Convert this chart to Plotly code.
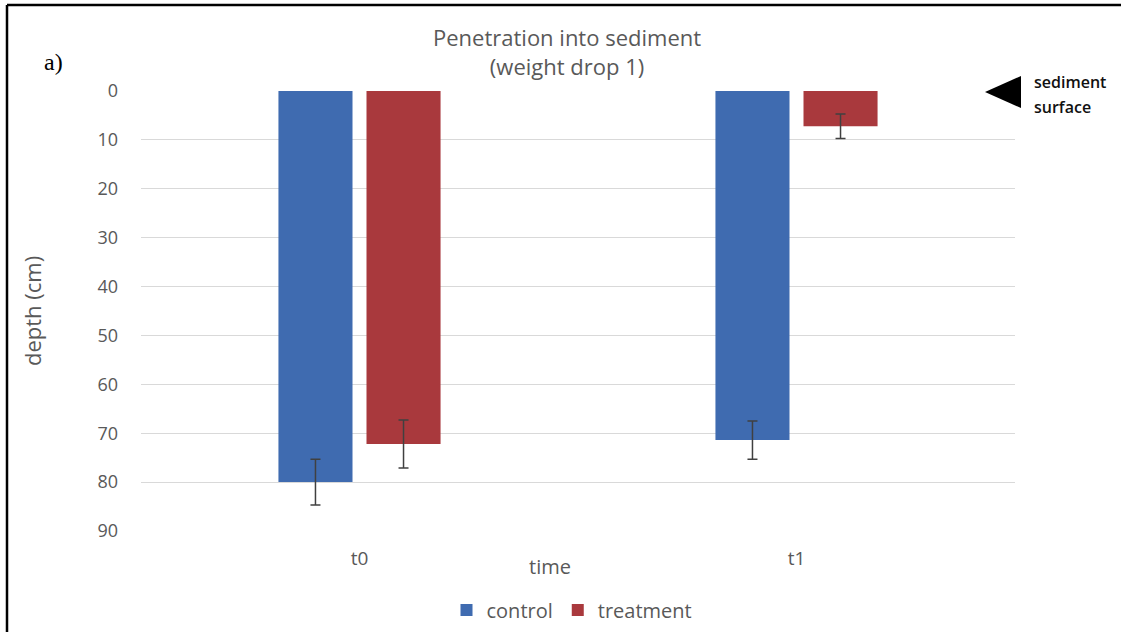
import plotly.graph_objects as go

categories = ["t0", "t1"]
control = [80.0, 71.4]
control_err = [4.7, 3.9]
treatment = [72.2, 7.2]
treatment_err = [4.9, 2.5]
y_ticks = [0, 10, 20, 30, 40, 50, 60, 70, 80, 90]

W, H = 1121, 632
L, R, T, B = 141, 1015, 91, 531  # plot area in pixels


def px(x):
    return (x - L) / (R - L)


def py(y):
    return (B - y) / (B - T)


FONT = "Open Sans"
GRAY = "#595959"

fig = go.Figure()
fig.add_trace(go.Bar(
    name="control", x=categories, y=control,
    marker=dict(color="#3F6BB0", line=dict(width=0)),
    error_y=dict(type="data", array=control_err, color="#404040", thickness=1.5, width=5),
))
fig.add_trace(go.Bar(
    name="treatment", x=categories, y=treatment,
    marker=dict(color="#A9393D", line=dict(width=0)),
    error_y=dict(type="data", array=treatment_err, color="#404040", thickness=1.5, width=5),
))

fig.update_layout(
    width=W, height=H,
    margin=dict(l=L, r=W - R, t=T, b=H - B, pad=0, autoexpand=False),
    paper_bgcolor="white", plot_bgcolor="white",
    barmode="group", bargap=0.597, bargroupgap=0.159,
    font=dict(family=FONT, color=GRAY, size=18),
    showlegend=True,
    legend=dict(orientation="h", x=px(572), xanchor="center",
                yref="container", y=1 - 610 / H, yanchor="middle",
                font=dict(size=20, color=GRAY, family=FONT), itemwidth=30,
                traceorder="normal"),
    xaxis=dict(showgrid=False, showline=False, zeroline=False,
               ticks="", tickfont=dict(size=19, color=GRAY), ticklabelstandoff=14),
    yaxis=dict(range=[90, 0], tickvals=y_ticks, showgrid=True, gridcolor="#D9D9D9",
               gridwidth=1.3, zeroline=False, showline=False, ticks="",
               tickfont=dict(size=18, color=GRAY), ticklabelstandoff=22),
)

# Frame (top and left edges)
fig.add_shape(type="line", xref="paper", yref="paper", x0=px(7), x1=px(1125), y0=py(5), y1=py(5),
              line=dict(color="black", width=2.5))
fig.add_shape(type="line", xref="paper", yref="paper", x0=px(7), x1=px(7), y0=py(5), y1=py(640),
              line=dict(color="black", width=2.5))

# Sediment surface marker
fig.add_shape(type="path", xref="paper", yref="paper",
              path=f"M {px(985)} {py(92)} L {px(1021)} {py(76)} L {px(1021)} {py(108)} Z",
              fillcolor="black", line=dict(width=0))

annotations = [
    dict(text="Penetration into sediment<br>(weight drop 1)", x=px(567), y=py(51.5),
         font=dict(size=22, color=GRAY, family=FONT)),
    dict(text="a)", x=px(53), y=py(62), font=dict(size=24, color="black", family="Liberation Serif")),
    dict(text="depth (cm)", x=px(32), y=py(311), textangle=-90, font=dict(size=22, color=GRAY, family=FONT)),
    dict(text="time", x=px(550), y=py(566), font=dict(size=20, color=GRAY, family=FONT)),
    dict(text="sediment", x=px(1032), y=py(82), xanchor="left",
         font=dict(size=16, color="#111111", family=FONT, weight=600)),
    dict(text="surface", x=px(1032), y=py(107), xanchor="left",
         font=dict(size=16, color="#111111", family=FONT, weight=600)),
]
for a in annotations:
    base = dict(xref="paper", yref="paper", showarrow=False, xanchor="center", yanchor="middle")
    base.update(a)
    fig.add_annotation(**base)

fig.write_html("out.html", config={"displayModeBar": False},
               post_script="document.body.style.margin='0px';")
